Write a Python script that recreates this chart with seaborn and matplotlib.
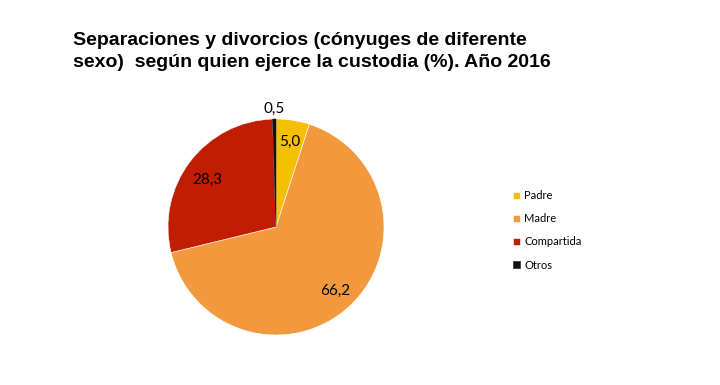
import matplotlib.pyplot as plt
import seaborn as sns
import numpy as np

categorias = ['Padre', 'Madre', 'Compartida', 'Otros']
valores = [5.0, 66.2, 28.3, 0.5]
etiquetas = ['5,0', '66,2', '28,3', '0,5']
colores = ['#F5C000', '#F3993D', '#C01D02', '#111111']

# ajuste de cada etiqueta: distancia radial y giro en grados
dist_etq = [0.80, 0.81, 0.77, 1.09]
giro_etq = [0, 0, 3, 0]

sns.set_style("white")
plt.rcParams['font.family'] = ['Liberation Sans', 'DejaVu Sans']

fig = plt.figure(figsize=(7.2, 3.85), dpi=100, facecolor='white')

# titulo
fig.text(73 / 720, 1 - 32 / 385,
         'Separaciones y divorcios (cónyuges de diferente\nsexo)  según quien ejerce la custodia (%). Año 2016',
         ha='left', va='top', fontsize=14, fontweight='bold', linespacing=1.36,
         color='black')

ax = fig.add_axes([(276 - 108) / 720, (158 - 108) / 385, 216 / 720, 216 / 385])
wedges, _ = ax.pie(valores, colors=colores, startangle=90, counterclock=False,
                   radius=1, wedgeprops=dict(linewidth=0.4, edgecolor='white'))
wedges[3].set_edgecolor('#111111')

for w, txt, d, g in zip(wedges, etiquetas, dist_etq, giro_etq):
    ang = np.deg2rad((w.theta1 + w.theta2) / 2 + g)
    ax.text(d * np.cos(ang), d * np.sin(ang), txt, ha='center', va='center',
            fontsize=11, color='black', family=['Lato', 'DejaVu Sans'])

ax.set_xlim(-1, 1)
ax.set_ylim(-1, 1)
ax.set_aspect('equal')
ax.axis('off')

leg = fig.legend(wedges, categorias, loc='upper left',
                 bbox_to_anchor=(503 / 720, 1 - 180 / 385), frameon=False,
                 handlelength=0.6, handleheight=0.6,
                 handletextpad=0.4, labelspacing=1.1,
                 prop={'family': ['Lato', 'DejaVu Sans'], 'size': 8})
for t in leg.get_texts():
    t.set_color('black')

fig.savefig('out.png', dpi=100, facecolor='white')
